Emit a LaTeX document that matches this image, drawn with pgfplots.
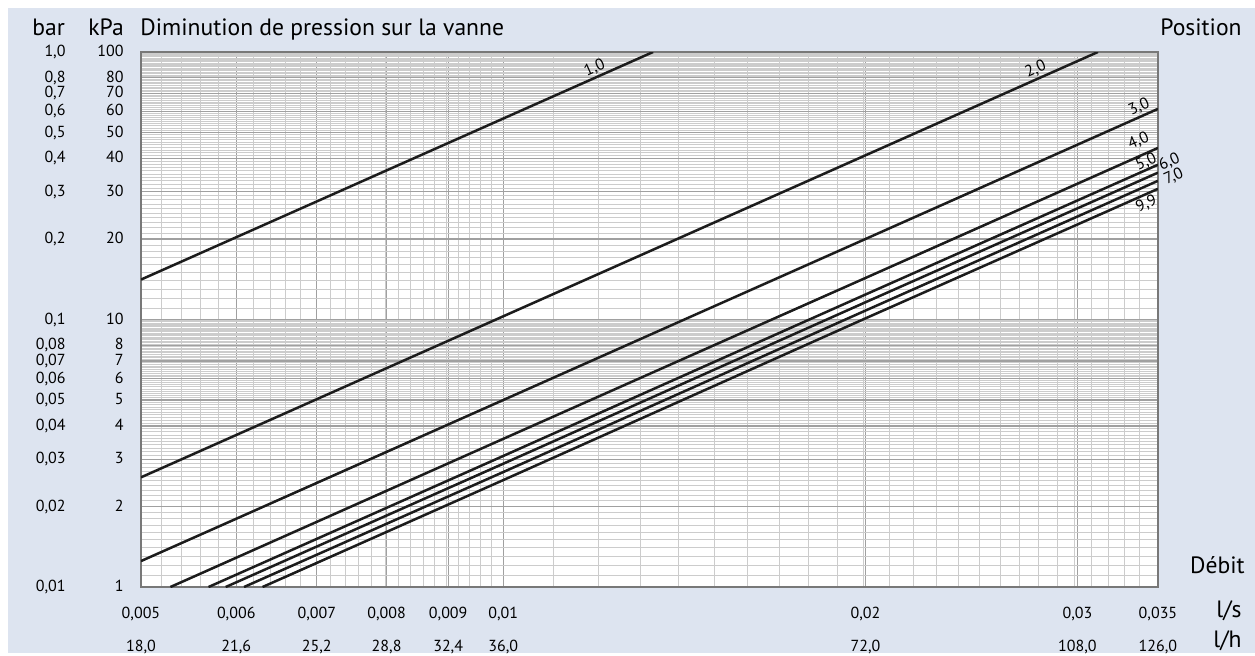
\documentclass[border=0pt]{standalone}
\usepackage{fontspec}
\setmainfont{PT Sans}
\usepackage{pgfplots}
\pgfplotsset{compat=1.18}

\definecolor{bgblue}{RGB}{221,228,240}
\definecolor{framegray}{RGB}{120,120,120}
\definecolor{majgrid}{RGB}{160,160,160}
\definecolor{mingrid}{RGB}{204,204,204}
\definecolor{curve}{RGB}{28,28,28}

\newcommand{\tickfont}{\fontsize{8}{9.6}\selectfont}
\newcommand{\titlefont}{\fontsize{11.8}{14}\selectfont}
\newcommand{\yl}[2]{#1\makebox[29pt][r]{#2}}

\begin{document}
\begin{tikzpicture}
\path[use as bounding box] (0,0) rectangle (627.5pt,-327.5pt);
\fill[white] (0,0) rectangle (627.5pt,-327.5pt);
\fill[bgblue] (4pt,-4pt) rectangle (627.5pt,-326.5pt);

\begin{axis}[
    at={(70.5pt,-293.5pt)}, anchor=south west,
    scale only axis, width=508.5pt, height=267.5pt,
    xmode=log, ymode=log,
    xmin=0.005, xmax=0.035, ymin=1, ymax=100,
    axis background/.style={fill=white},
    axis line style={framegray, line width=1.4pt},
    major tick length=0pt, minor tick length=0pt,
    grid=both,
    minor grid style={mingrid, line width=0.45pt},
    major grid style={majgrid, line width=0.55pt},
    xtick={0.005,0.006,0.007,0.008,0.009,0.01,0.02,0.03,0.035},
    xticklabels={{0,005\\[6.5pt]18,0},{0,006\\[6.5pt]21,6},{0,007\\[6.5pt]25,2},
        {0,008\\[6.5pt]28,8},{0,009\\[6.5pt]32,4},{0,01\\[6.5pt]36,0},
        {0,02\\[6.5pt]72,0},{0,03\\[6.5pt]108,0},{0,035\\[6.5pt]126,0}},
    minor xtick={0.0052,0.0054,...,0.0099,0.011,0.012,...,0.0345},
    ytick={1,2,3,4,5,6,7,8,10,20,30,40,50,60,70,80,100},
    yticklabels={{\yl{0,01}{1}},{\yl{0,02}{2}},{\yl{0,03}{3}},{\yl{0,04}{4}},
        {\yl{0,05}{5}},{\yl{0,06}{6}},{\yl{0,07}{7}},{\yl{0,08}{8}},
        {\yl{0,1}{10}},{\yl{0,2}{20}},{\yl{0,3}{30}},{\yl{0,4}{40}},
        {\yl{0,5}{50}},{\yl{0,6}{60}},{\yl{0,7}{70}},{\yl{0,8}{80}},
        {\yl{1,0}{100}}},
    minor ytick={1.1,1.2,...,9.95,11,12,...,99},
    xticklabel style={font=\tickfont, align=center, inner sep=0pt,
        anchor=north, yshift=-10pt},
    yticklabel style={font=\tickfont, inner sep=0pt, anchor=east, xshift=-8.5pt},
    clip mode=individual,
    crv/.style={curve, line width=1.25pt, mark=none, solid},
]
% position 1,0
\addplot[crv] coordinates {(0.005,14.1) (0.01,56.4) (0.01332,100)};
% position 2,0
\addplot[crv] coordinates {(0.005,2.57) (0.01,10.28) (0.02,41.1) (0.0312,100)};
% position 3,0
\addplot[crv] coordinates {(0.005,1.25) (0.01,5.0) (0.02,20.0) (0.035,61.3)};
% position 4,0
\addplot[crv] coordinates {(0.00529,1) (0.01,3.58) (0.02,14.3) (0.035,43.8)};
% position 5,0
\addplot[crv] coordinates {(0.00569,1) (0.01,3.09) (0.02,12.4) (0.035,37.9)};
% position 6,0
\addplot[crv] coordinates {(0.00588,1) (0.01,2.89) (0.02,11.6) (0.035,35.4)};
% position 7,0
\addplot[crv] coordinates {(0.00609,1) (0.01,2.69) (0.02,10.8) (0.035,33.0)};
% position 9,9
\addplot[crv] coordinates {(0.00631,1) (0.01,2.51) (0.02,10.1) (0.035,30.8)};

\begin{scope}[every node/.style={font=\tickfont, rotate=24, inner sep=1pt}]
\node[anchor=south] at (axis cs:0.0120,81) {1,0};
\node[anchor=south] at (axis cs:0.0279,80) {2,0};
\node[anchor=south] at (axis cs:0.0340,58) {3,0};
\node[anchor=south, yshift=2.5pt] at (axis cs:0.0341,41.6) {4,0};
\node[anchor=south, inner sep=0pt, xshift=1pt] at (axis cs:0.0343,36.4) {5,0};
\node[anchor=south west, xshift=1pt, yshift=-2pt] at (axis cs:0.035,35.4) {6,0};
\node[anchor=south west, xshift=2pt, yshift=-6pt] at (axis cs:0.035,33.0) {7,0};
\node[anchor=north, xshift=-1pt] at (axis cs:0.0341,29.3) {9,9};
\end{scope}
\end{axis}

\begin{scope}[every node/.style={font=\titlefont, inner sep=0pt}]
\node[anchor=base west] at (16pt,-17.5pt) {bar};
\node[anchor=base west] at (44pt,-17.5pt) {kPa};
\node[anchor=base west] at (70pt,-17.5pt) {Diminution de pression sur la vanne};
\node[anchor=base east] at (621pt,-17.5pt) {Position};
\node[anchor=base east] at (622.5pt,-286.5pt) {Débit};
\node[anchor=base east] at (621pt,-308.5pt) {l/s};
\node[anchor=base east] at (621pt,-323.5pt) {l/h};
\end{scope}
\end{tikzpicture}
\end{document}
